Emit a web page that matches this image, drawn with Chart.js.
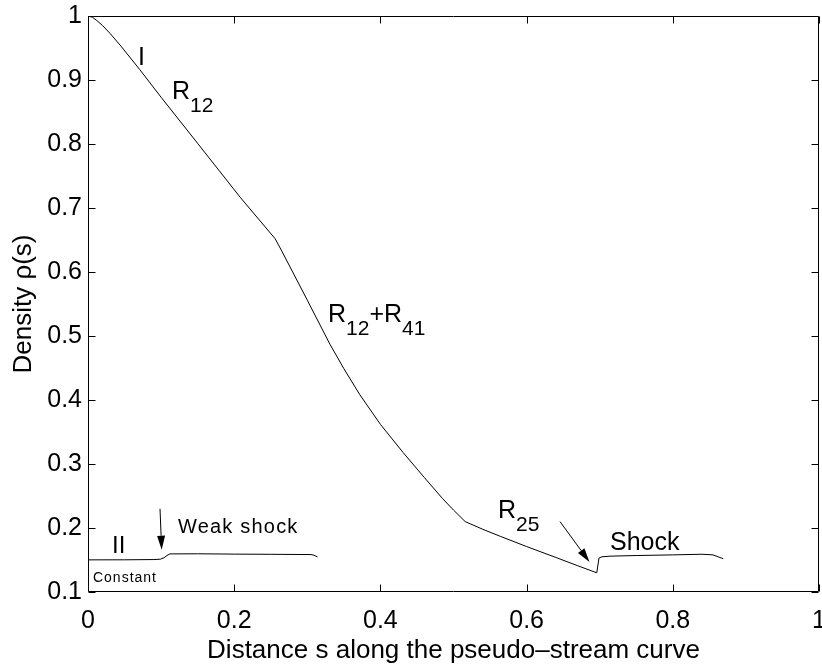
<!DOCTYPE html>
<html>
<head>
<meta charset="utf-8">
<script src="https://cdn.jsdelivr.net/npm/chart.js@4.4.1/dist/chart.umd.min.js"></script>
<style>
  html, body { margin: 0; padding: 0; background: #fff; }
  #wrap { width: 822px; height: 667px; }
</style>
</head>
<body>
<div id="wrap"><canvas id="c"></canvas></div>
<script>
// Axis ticks
const xTicks = [0, 0.2, 0.4, 0.6, 0.8, 1];
const xTickLabels = ['0', '0.2', '0.4', '0.6', '0.8', '1'];
const yTicks = [0.1, 0.2, 0.3, 0.4, 0.5, 0.6, 0.7, 0.8, 0.9, 1];
const yTickLabels = ['0.1', '0.2', '0.3', '0.4', '0.5', '0.6', '0.7', '0.8', '0.9', '1'];

// Density along the pseudo-stream curve through region I (R12, R12+R41, R25, shock)
const mainS = [0, 0.006, 0.012, 0.02, 0.03, 0.045, 0.071, 0.1, 0.15, 0.208, 0.256,
  0.265, 0.28, 0.30, 0.331, 0.35, 0.372, 0.40, 0.431, 0.46, 0.485, 0.50, 0.516,
  0.54, 0.564, 0.60, 0.64, 0.67, 0.696, 0.699, 0.703, 0.714, 0.75, 0.80, 0.84,
  0.855, 0.862, 0.869];
const mainRho = [1.0, 0.998, 0.993, 0.985, 0.973, 0.953, 0.916, 0.873, 0.801, 0.717, 0.652,
  0.633, 0.600, 0.556, 0.487, 0.449, 0.408, 0.362, 0.318, 0.279, 0.246, 0.228, 0.210,
  0.198, 0.187, 0.171, 0.154, 0.141, 0.130, 0.153, 0.155, 0.156, 0.157, 0.158, 0.159,
  0.158, 0.155, 0.152];

// Density along the curve through region II (constant state, weak shock)
const lowerS = [0, 0.05, 0.09, 0.099, 0.104, 0.108, 0.112, 0.15, 0.2, 0.25, 0.29,
  0.305, 0.309, 0.314];
const lowerRho = [0.1502, 0.1503, 0.1507, 0.1513, 0.1535, 0.157, 0.1595, 0.1597, 0.1592,
  0.1589, 0.1586, 0.1585, 0.1575, 0.1548];

// Text annotations (anchor = left end of baseline, in data units); "_{..}" marks a subscript
const notes = [
  { text: 'I', s: 0.0684, rho: 0.9234, size: 25, spacing: 0 },
  { text: 'R_{12}', s: 0.1149, rho: 0.8707, size: 25, spacing: 0 },
  { text: 'R_{12}+R_{41}', s: 0.3283, rho: 0.5221, size: 25, spacing: 0 },
  { text: 'R_{25}', s: 0.5609, rho: 0.2160, size: 25, spacing: 0 },
  { text: 'Shock', s: 0.7141, rho: 0.1661, size: 25, spacing: 0 },
  { text: 'II', s: 0.0328, rho: 0.1614, size: 24, spacing: 0 },
  { text: 'Weak shock', s: 0.1231, rho: 0.1926, size: 20, spacing: 1.2 },
  { text: 'Constant', s: 0.0068, rho: 0.1161, size: 14, spacing: 1 }
];

// Arrows: [fromS, fromRho, toS, toRho]
const arrows = [
  [0.0985, 0.230, 0.1008, 0.166],
  [0.6457, 0.210, 0.686, 0.147]
];

const FONT = '"Liberation Sans", Arial, Helvetica, sans-serif';

function toPoints(xs, ys) { return xs.map((v, i) => ({ x: v, y: ys[i] })); }

function drawRich(ctx, str, x, y, size, spacing) {
  const parts = [];
  const re = /_\{([^}]*)\}/g;
  let last = 0, m;
  while ((m = re.exec(str)) !== null) {
    if (m.index > last) parts.push({ t: str.slice(last, m.index), sub: false });
    parts.push({ t: m[1], sub: true });
    last = re.lastIndex;
  }
  if (last < str.length) parts.push({ t: str.slice(last), sub: false });
  let cx = x;
  ctx.textBaseline = 'alphabetic';
  ctx.textAlign = 'left';
  ctx.letterSpacing = (spacing || 0) + 'px';
  for (const p of parts) {
    const fs = p.sub ? Math.round(size * 0.82) : size;
    ctx.font = fs + 'px ' + FONT;
    ctx.fillText(p.t, cx, p.sub ? y + Math.round(size * 0.52) : y);
    cx += ctx.measureText(p.t).width;
  }
  ctx.letterSpacing = '0px';
}

const framePlugin = {
  id: 'frame',
  afterDraw(chart) {
    const { ctx, chartArea: a, scales: { x, y } } = chart;
    const L = Math.round(a.left) + 0.5, R = Math.round(a.right) - 0.5;
    const T = Math.round(a.top) + 0.5, B = Math.round(a.bottom) - 0.5;
    const tl = 7;
    ctx.save();
    ctx.strokeStyle = '#000';
    ctx.lineWidth = 1;
    ctx.beginPath();
    ctx.rect(L, T, R - L, B - T);
    xTicks.forEach(v => {
      const px = Math.round(x.getPixelForValue(v)) + 0.5;
      ctx.moveTo(px, B); ctx.lineTo(px, B - tl);
      ctx.moveTo(px, T); ctx.lineTo(px, T + tl);
    });
    yTicks.forEach(v => {
      const py = Math.round(y.getPixelForValue(v)) + 0.5;
      ctx.moveTo(L, py); ctx.lineTo(L + tl, py);
      ctx.moveTo(R, py); ctx.lineTo(R - tl, py);
    });
    ctx.stroke();

    // arrows
    ctx.fillStyle = '#000';
    arrows.forEach(([s0, r0, s1, r1]) => {
      const x0 = x.getPixelForValue(s0), y0 = y.getPixelForValue(r0);
      const x1 = x.getPixelForValue(s1), y1 = y.getPixelForValue(r1);
      const ang = Math.atan2(y1 - y0, x1 - x0);
      const hl = 14, hw = 4;
      const bx = x1 - hl * Math.cos(ang), by = y1 - hl * Math.sin(ang);
      ctx.beginPath();
      ctx.moveTo(x0, y0); ctx.lineTo(bx, by);
      ctx.stroke();
      ctx.beginPath();
      ctx.moveTo(x1, y1);
      ctx.lineTo(bx + hw * Math.sin(ang), by - hw * Math.cos(ang));
      ctx.lineTo(bx - hw * Math.sin(ang), by + hw * Math.cos(ang));
      ctx.closePath();
      ctx.fill();
    });

    // labels
    notes.forEach(n => {
      drawRich(ctx, n.text, x.getPixelForValue(n.s), y.getPixelForValue(n.rho), n.size, n.spacing);
    });
    ctx.restore();
  }
};

new Chart(document.getElementById('c'), {
  type: 'scatter',
  data: {
    datasets: [
      { data: toPoints(mainS, mainRho), showLine: true, borderColor: '#000', borderWidth: 1,
        pointRadius: 0, tension: 0, fill: false },
      { data: toPoints(lowerS, lowerRho), showLine: true, borderColor: '#000', borderWidth: 1,
        pointRadius: 0, tension: 0, fill: false }
    ]
  },
  options: {
    responsive: true,
    maintainAspectRatio: false,
    devicePixelRatio: 1,
    animation: false,
    events: [],
    layout: { padding: { top: 16, right: 3, left: 0, bottom: 0 } },
    plugins: { legend: { display: false }, tooltip: { enabled: false }, title: { display: false } },
    scales: {
      x: {
        type: 'linear', min: 0, max: 1,
        afterBuildTicks: s => { s.ticks = xTicks.map(v => ({ value: v })); },
        afterFit: s => { s.height = 75; s.paddingLeft = 0; s.paddingRight = 0; },
        grid: { display: false, drawTicks: false },
        border: { display: false },
        ticks: {
          padding: 14, color: '#000', maxRotation: 0, autoSkip: false,
          font: { family: FONT, size: 25 },
          callback: (v, i) => xTickLabels[i]
        },
        title: {
          display: true, text: 'Distance s along the pseudo\u2013stream curve', color: '#000',
          font: { family: FONT, size: 26 }, padding: { top: 0, bottom: 1 }
        }
      },
      y: {
        type: 'linear', min: 0.1, max: 1,
        afterBuildTicks: s => { s.ticks = yTicks.map(v => ({ value: v })); },
        afterFit: s => { s.width = 88; s.paddingTop = 0; s.paddingBottom = 0; },
        grid: { display: false, drawTicks: false },
        border: { display: false },
        ticks: {
          padding: 6, color: '#000', autoSkip: false,
          font: { family: FONT, size: 25 },
          callback: (v, i) => yTickLabels[i]
        },
        title: {
          display: true, text: 'Density \u03c1(s)', color: '#000',
          font: { family: FONT, size: 26 }, padding: { top: 8, bottom: 0 }
        }
      }
    }
  },
  plugins: [framePlugin]
});
</script>
</body>
</html>
